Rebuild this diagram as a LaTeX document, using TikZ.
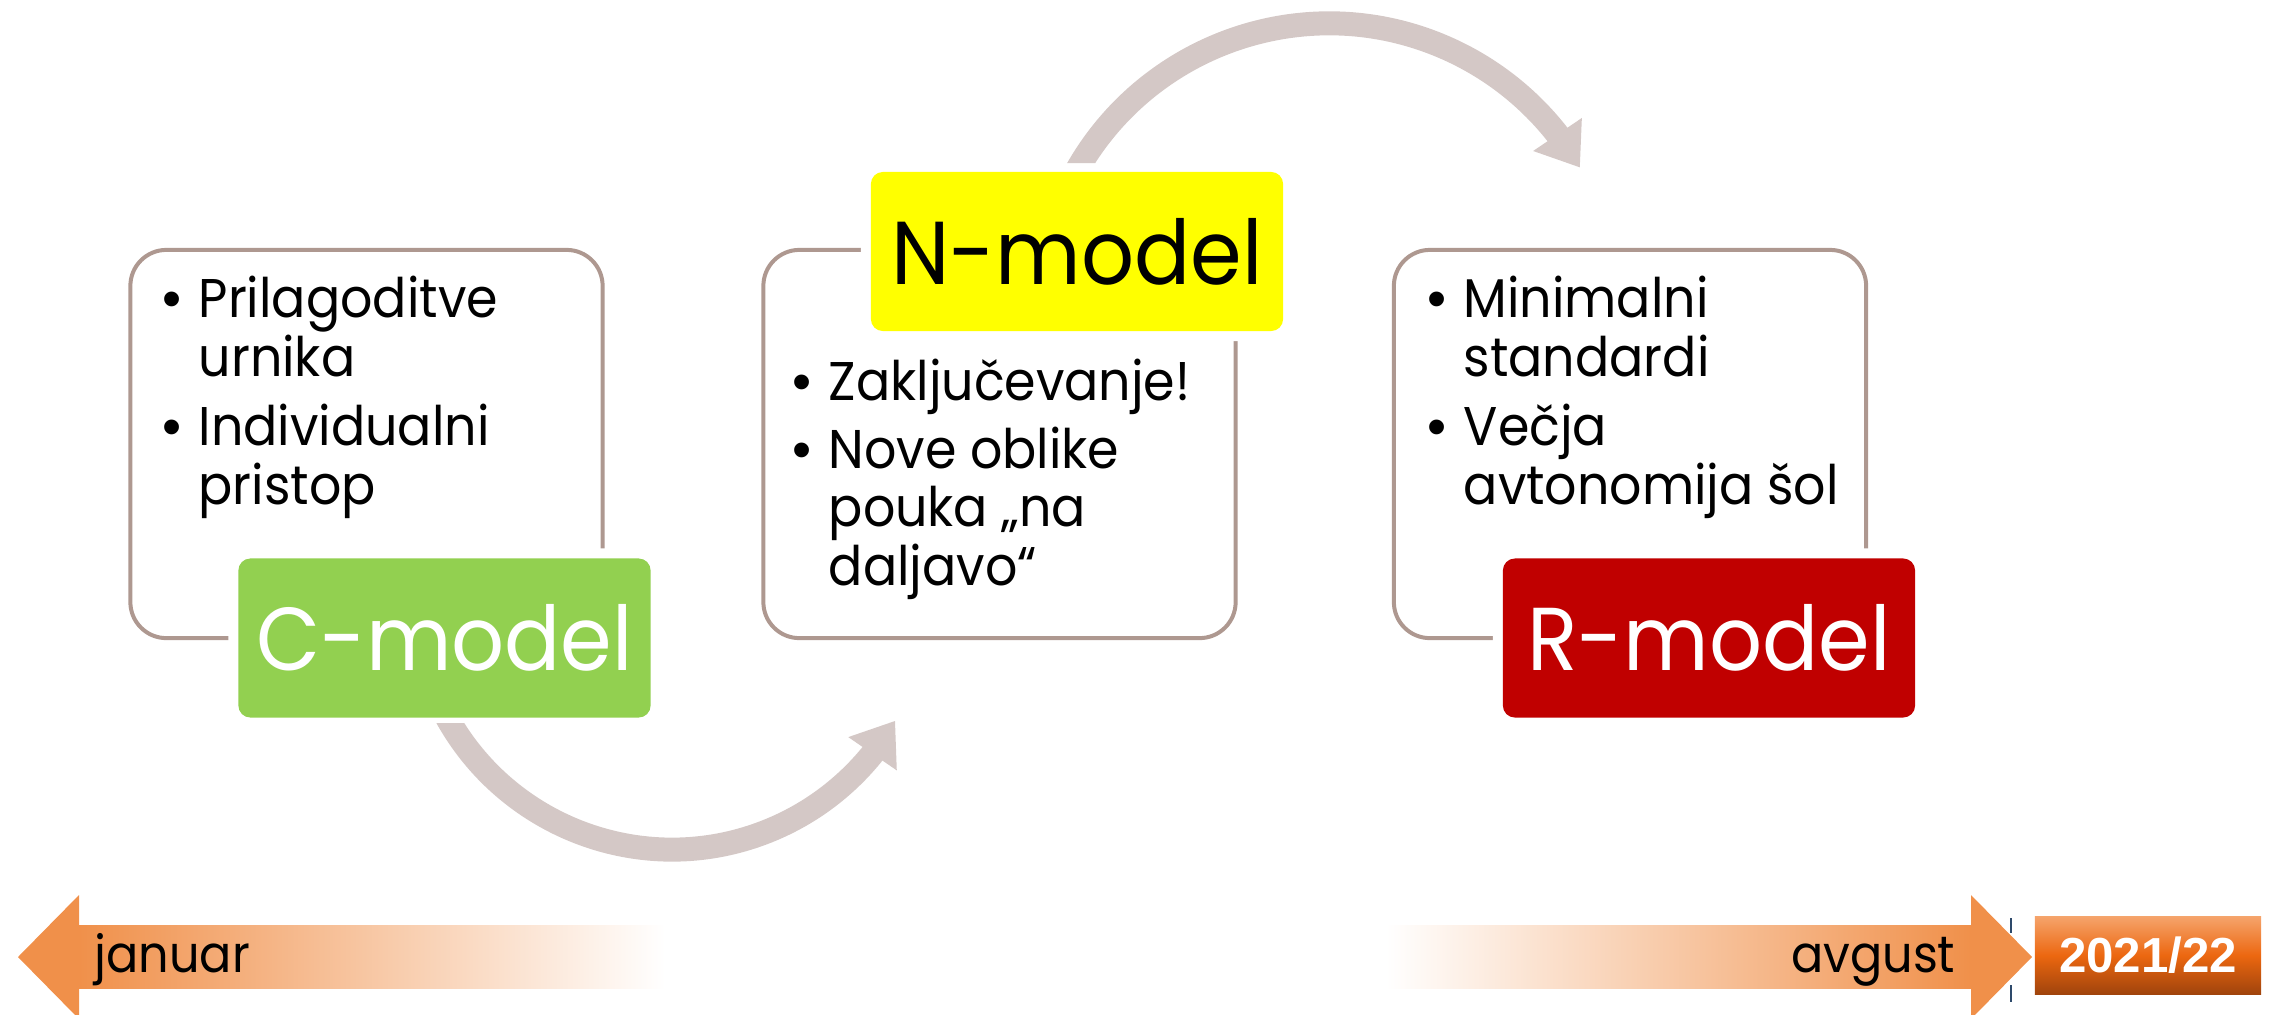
\documentclass[tikz,border=0pt]{standalone}
\usepackage{fontspec}
\setmainfont{Poppins}[FakeStretch=0.93]
\newfontfamily\yearfont{Liberation Sans}
\usetikzlibrary{arrows.meta,bending}
\definecolor{outl}{HTML}{AE9890}
\definecolor{arrowc}{HTML}{D4C8C6}
\definecolor{cgreen}{HTML}{92D050}
\definecolor{cyellow}{HTML}{FFFF00}
\definecolor{cred}{HTML}{C00000}
\definecolor{orng}{HTML}{F0904A}
\definecolor{yrtop}{HTML}{F5A36A}
\definecolor{yrmid}{HTML}{EC6710}
\definecolor{yrbot}{HTML}{A0440C}
\definecolor{tickc}{HTML}{2E4A6B}
\newcommand{\bdot}{{\yearfont\textbullet}}
\begin{document}
\begin{tikzpicture}[x=0.01cm,y=-0.01cm,
  infobox/.style={draw=outl, line width=0.04cm, rounded corners=0.36cm, minimum width=4.72cm, minimum height=3.88cm, inner sep=0pt},
  labelbox/.style={rounded corners=0.12cm, minimum width=4.12cm, minimum height=1.59cm, inner sep=0pt, preaction={draw=white, line width=0.2cm}, font=\fontsize{25.4}{30}\selectfont},
  bullets/.style={anchor=north west, inner sep=0pt, align=left, font=\fontsize{15.5}{16.5}\selectfont},
  cycarrow/.style={draw=arrowc, line width=0.24cm, -{Triangle[width=0.56cm,length=0.4cm,flex]}},
  timetext/.style={font=\fontsize{14.6}{16.5}\selectfont, inner sep=0pt},
]
\useasboundingbox (0,0) rectangle (2275,1014);
% content boxes
\node[infobox] (cbox) at (366.5,444) {};
\node[infobox] (nbox) at (999.5,444) {};
\node[infobox] (rbox) at (1630,444) {};
% bullet texts
\node[bullets] (ctext) at (162,275) {\begin{tabular}{@{}p{0.36cm}@{}l@{}}\bdot & Prilagoditve\\ & urnika\\[0.11cm] \bdot & Individualni\\ & pristop\end{tabular}};
\node[bullets] (ntext) at (792,358) {\begin{tabular}{@{}p{0.36cm}@{}l@{}}\bdot & Zaključevanje!\\[0.09cm] \bdot & Nove oblike\\ & pouka „na\\ & daljavo“\end{tabular}};
\node[bullets] (rtext) at (1427,275) {\begin{tabular}{@{}p{0.36cm}@{}l@{}}\bdot & Minimalni\\ & standardi\\[0.11cm] \bdot & Večja\\ & avtonomija šol\end{tabular}};
% labels
\node[labelbox, fill=cgreen, text=white] (clabel) at (444.5,638) {C-model};
\node[labelbox, fill=cyellow, text=black] (nlabel) at (1077,251.5) {N-model};
\node[labelbox, fill=cred, text=white] (rlabel) at (1709,638) {R-model};
% cycle arrows
\coordinate (bstart) at (434,690.5);
\coordinate (tstart) at (1062.6,199);
\begin{scope}
\clip (0,723) rectangle (700,1014) (700,0) rectangle (2275,1014);
\draw[cycarrow] (bstart) arc[start angle=202.5, end angle=330, radius=2.575cm];
\end{scope}
\begin{scope}
\clip (0,0) rectangle (1200,163) (1200,0) rectangle (2275,1014);
\draw[cycarrow] (tstart) arc[start angle=156.75, end angle=30.2, radius=2.9cm];
\end{scope}
% timeline arrows
\fill[orng] (18,957) -- (79,895) -- (79,1019) -- cycle;
\shade[left color=orng, right color=white] (78.5,925) rectangle (665,988);
\shade[left color=white, right color=orng] (1386,925) rectangle (1971.5,988);
\fill[orng] (2032,957) -- (1971,895) -- (1971,1019) -- cycle;
\node[timetext, anchor=base west] (jan) at (94,972) {januar};
\node[timetext, anchor=base east] (avg) at (1956,972) {avgust};
% year box
\draw[tickc, line width=0.02cm] (2011,918) -- (2011,933) (2011,985) -- (2011,1002);
\node[minimum width=2.26cm, minimum height=0.77cm, inner sep=0pt, top color=yrtop, bottom color=yrbot, middle color=yrmid, text=white, font=\yearfont\bfseries\fontsize{14}{16}\selectfont] (year) at (2148,955.5) {2021/22};
\end{tikzpicture}
\end{document}
